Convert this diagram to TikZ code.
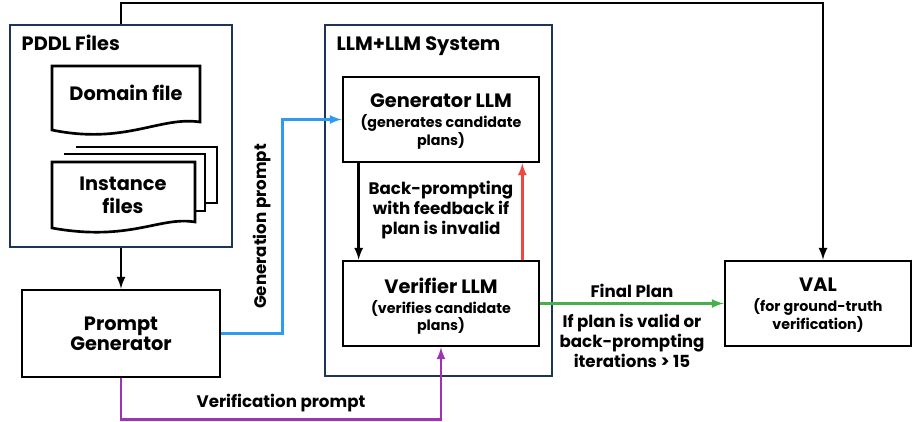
\documentclass[tikz,border=0pt]{standalone}
\usepackage{fontspec}
\setmainfont{Poppins}
\usetikzlibrary{positioning}

\definecolor{navy}{HTML}{1F3557}
\definecolor{genblue}{HTML}{2E9BF0}
\definecolor{fbred}{HTML}{F2473C}
\definecolor{okgreen}{HTML}{47B04B}
\definecolor{verpurple}{HTML}{A032B4}

\tikzset{
	group/.style = {draw = navy, line width = 1.6pt, inner sep = 0pt},
	block/.style = {draw, line width = 2pt, align = center, inner sep = 0pt},
	title/.style = {font = \bfseries\fontsize{14.5}{17}\selectfont},
	sub/.style = {font = \bfseries\fontsize{10.7}{11.5}\selectfont, align = center},
	lbl/.style = {font = \bfseries\fontsize{12.5}{15}\selectfont, align = center},
	link/.style = {line width = 2pt}
}

\begin{document}
\begin{tikzpicture}[> = latex, x = 0.75pt, y = -0.75pt]

	\useasboundingbox (0, 0) rectangle (912, 421);

	% Groups

	\node [group, minimum width = 166.5pt, minimum height = 166.5pt] (pddl) at (121, 136) {};
	\node [title, anchor = west] (pddltitle) at (17, 43) {PDDL Files};

	\node [group, minimum width = 170.25pt, minimum height = 263.25pt] (llm) at (438.5, 200.5) {};
	\node [title, anchor = west] (llmtitle) at (332, 46) {LLM+LLM System};

	% Files

	\draw [line width = 2pt, fill = white] (76, 147) -- (217, 147) -- (217, 203) -- (205, 203);
	\draw [line width = 2pt, fill = white] (64, 154) -- (205, 154) -- (205, 211) -- (195, 211);
	\draw [line width = 2pt, fill = white] (52, 162) -- (195, 162) -- (195, 222)
		.. controls (160, 216) and (130, 242) .. (52, 228) -- cycle;
	\draw [line width = 2pt] (52, 66) -- (200, 66) -- (200, 122)
		.. controls (160, 116) and (125, 145) .. (52, 130) -- cycle;

	\node [title] (domain) at (126, 93) {Domain file};
	\node [title, align = center, font = \bfseries\fontsize{14.5}{17.5}\selectfont] (instance) at (123, 195) {Instance\\files};

	% Blocks

	\node [block, minimum width = 148.5pt, minimum height = 65.25pt] (pg) at (121, 333.5)
		{\fontsize{14.5}{17.5}\selectfont\bfseries Prompt\\\fontsize{14.5}{17.5}\selectfont\bfseries Generator};

	\node [block, minimum width = 147pt, minimum height = 63.75pt] (gen) at (441, 119.5) {};
	\node [title, below = 10pt of gen.north] (gentitle) {Generator LLM};
	\node [sub, below = -2pt of gentitle] (gensub) {(generates candidate\\plans)};

	\node [block, minimum width = 147pt, minimum height = 63.75pt] (ver) at (441, 303.5) {};
	\node [title, below = 10pt of ver.north] (vertitle) {Verifier LLM};
	\node [sub, below = -2pt of vertitle] (versub) {(verifies candidate\\plans)};

	\node [block, minimum width = 139.5pt, minimum height = 63.75pt] (val) at (818, 303.5) {};
	\node [title, below = 10pt of val.north] (valtitle) {VAL};
	\node [sub, below = -2pt of valtitle] (valsub) {(for ground-truth\\verification)};

	% Connectors

	\draw [link, ->] (pddl.south) -- (pg.north);

	\draw [link, ->, genblue] (pg.east) -- ++(61, 0) |- (gen.west)
		node [pos = 0.25, above = 4pt, sloped, black, lbl] (genlbl) {Generation prompt};

	\draw [link, ->, verpurple] (pg.south) -- ++(0, 41) -| (ver.south)
		node [pos = 0.25, above = 1pt, black, lbl] (verlbl) {Verification prompt};

	\draw [link, ->] ([xshift = 12.75pt] gen.south west) -- ([xshift = 12.75pt] ver.north west);
	\draw [link, ->, fbred] ([xshift = -13.5pt] ver.north east) -- ([xshift = -13.5pt] gen.south east);
	\node [lbl] (fb) at (441, 210) {Back-prompting\\with feedback if\\plan is invalid};

	\draw [link, ->, okgreen] (ver.east) -- (val.west)
		node [midway, above = 0pt, black, lbl] (final) {Final Plan}
		node [midway, below = 4pt, black, lbl] (cond) {If plan is valid or\\back-prompting\\iterations > 15};

	\draw [link, ->] (pddl.north) -- ++(0, -21) -| ([xshift = 3.75pt] val.north);

\end{tikzpicture}
\end{document}
